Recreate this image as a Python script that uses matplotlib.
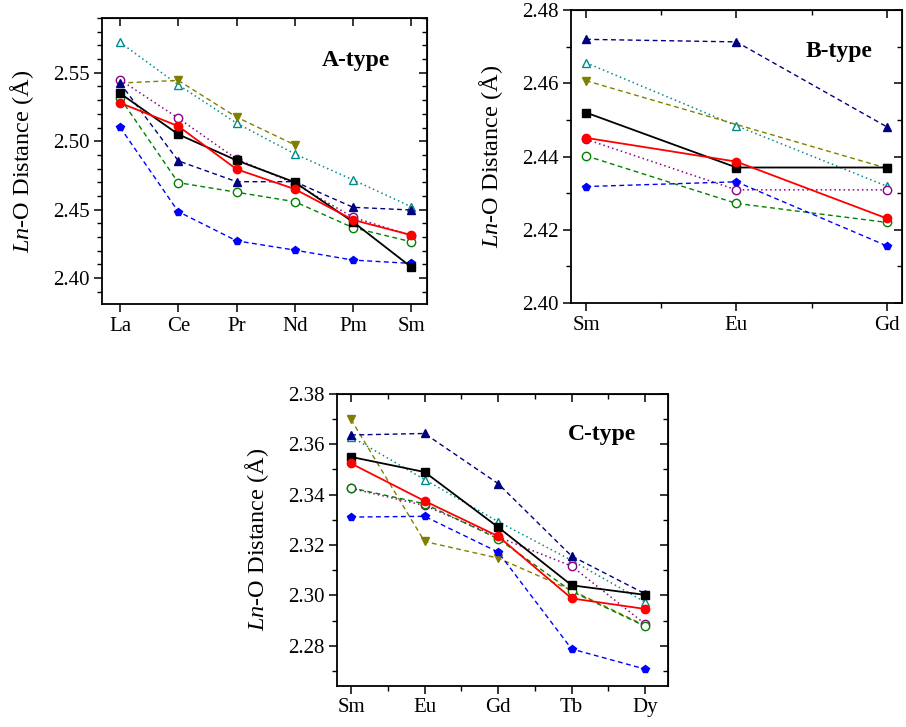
import numpy as np
import matplotlib
matplotlib.use("Agg")
import matplotlib.pyplot as plt
from matplotlib.ticker import MultipleLocator, FormatStrFormatter

plt.rcParams["font.family"] = ["Liberation Serif", "DejaVu Serif"]
plt.rcParams["mathtext.fontset"] = "custom"
plt.rcParams["mathtext.it"] = "Liberation Serif:italic"
plt.rcParams["mathtext.rm"] = "Liberation Serif"

nan = np.nan

# A-type
a_labels = ["La", "Ce", "Pr", "Nd", "Pm", "Sm"]
a_black = [2.535, 2.505, 2.486, 2.470, 2.441, 2.408]
a_red = [2.528, 2.511, 2.4795, 2.465, 2.4425, 2.4314]
a_navy = [2.5425, 2.4856, 2.4704, 2.4704, 2.4517, 2.4497]
a_teal = [2.5722, 2.5412, 2.5132, 2.4907, 2.4717, 2.4521]
a_olive = [2.5425, 2.5444, 2.5176, 2.4973, nan, nan]
a_purple = [2.5449, 2.5168, 2.4870, 2.4690, 2.4444, 2.4310]
a_green = [2.5315, 2.4697, 2.4627, 2.4558, 2.4368, 2.4265]
a_blue = [2.5102, 2.4485, 2.4272, 2.4204, 2.4131, 2.4107]

# B-type
b_labels = ["Sm", "Eu", "Gd"]
b_black = [2.452, 2.437, 2.437]
b_red = [2.4451, 2.4386, 2.4231]
b_navy = [2.472, 2.4713, 2.4481]
b_teal = [2.4656, 2.4484, 2.4319]
b_olive = [2.4607, nan, 2.4368]
b_purple = [2.4447, 2.4309, 2.4309]
b_green = [2.4402, 2.4272, 2.422]
b_blue = [2.4318, 2.4331, 2.4156]

# C-type
c_labels = ["Sm", "Eu", "Gd", "Tb", "Dy"]
c_black = [2.355, 2.349, 2.3271, 2.304, 2.3002]
c_red = [2.3524, 2.3375, 2.3235, 2.2988, 2.2946]
c_navy = [2.3637, 2.3643, 2.3444, 2.3156, 2.3006]
c_teal = [2.363, 2.346, 2.3293, 2.3139, 2.2973]
c_olive = [2.3699, 2.3214, 2.3148, 2.302, 2.288]
c_purple = [2.3425, 2.3357, 2.3232, 2.3116, 2.2886]
c_green = [2.3427, 2.3364, 2.3225, 2.3016, 2.2877]
c_blue = [2.3311, 2.3314, 2.3172, 2.2787, 2.2707]

DASH = (0, (3.5, 2.5))
DOT = (0, (1, 2))
styles = [
    # key, color, marker, linestyle, filled, linewidth
    ("teal", "#008b8b", "^", DOT, False, 1.1),
    ("olive", "#808000", "v", DASH, True, 1.0),
    ("purple", "#8b008b", "o", DOT, False, 1.1),
    ("green", "#008000", "o", DASH, False, 1.0),
    ("blue", "#0000ff", "p", DASH, True, 1.0),
    ("navy", "#000080", "^", DASH, True, 1.0),
    ("black", "black", "s", "-", True, 1.3),
    ("red", "red", "o", "-", True, 1.3),
]


def draw_panel(ax, labels, series, ylim, ymajor, yminor, xlim, xminor, title, title_xy):
    x = np.arange(len(labels))
    for key, color, marker, ls, filled, lw in styles:
        y = np.array(series[key], dtype=float)
        m = ~np.isnan(y)
        ax.plot(x[m], y[m], color=color, linestyle=ls, linewidth=lw,
                marker=marker, markersize=6 if marker != "s" else 5.5,
                markerfacecolor=color if filled else "white",
                markeredgecolor=color, markeredgewidth=1.0)
    ax.set_xlim(*xlim)
    ax.set_ylim(*ylim)
    ax.set_xticks(x)
    ax.set_xticklabels(labels)
    ax.yaxis.set_major_locator(MultipleLocator(ymajor))
    ax.yaxis.set_minor_locator(MultipleLocator(yminor))
    ax.yaxis.set_major_formatter(FormatStrFormatter("%.2f"))
    if xminor:
        ax.xaxis.set_minor_locator(MultipleLocator(0.5))
    ax.tick_params(which="major", direction="out", length=6, width=1.1, labelsize=15, pad=3)
    ax.tick_params(which="minor", direction="out", length=3.5, width=1.0)
    for s in ax.spines.values():
        s.set_linewidth(1.3)

    top = ax.secondary_xaxis("top")
    top.set_xticks(x)
    if xminor:
        top.xaxis.set_minor_locator(MultipleLocator(0.5))
    top.tick_params(which="major", direction="in", length=6, width=1.1, labeltop=False)
    top.tick_params(which="minor", direction="in", length=3.5, width=1.0)
    right = ax.secondary_yaxis("right")
    right.yaxis.set_major_locator(MultipleLocator(ymajor))
    right.yaxis.set_minor_locator(MultipleLocator(yminor))
    right.tick_params(which="major", direction="in", length=6, width=1.1, labelright=False)
    right.tick_params(which="minor", direction="in", length=3.5, width=1.0)

    ax.set_ylabel(r"$\mathit{Ln}$-O Distance (Å)", fontsize=17.5, labelpad=12)
    ax.text(title_xy[0], title_xy[1], title, transform=ax.transAxes,
            fontsize=17, fontweight="bold", ha="center", va="center")


fig = plt.figure(figsize=(9.06, 7.27), dpi=100)

ax_a = fig.add_axes([0.1126, 0.5818, 0.3587, 0.3934])
draw_panel(ax_a, a_labels,
           dict(black=a_black, red=a_red, navy=a_navy, teal=a_teal, olive=a_olive,
                purple=a_purple, green=a_green, blue=a_blue),
           (2.381, 2.590), 0.05, 0.01, (-0.31, 5.27), False, "A-type", (0.78, 0.85))

ax_b = fig.add_axes([0.6302, 0.5832, 0.3653, 0.4030])
draw_panel(ax_b, b_labels,
           dict(black=b_black, red=b_red, navy=b_navy, teal=b_teal, olive=b_olive,
                purple=b_purple, green=b_green, blue=b_blue),
           (2.40, 2.48), 0.02, 0.01, (-0.1, 2.1), True, "B-type", (0.81, 0.86))

ax_c = fig.add_axes([0.3720, 0.0564, 0.3653, 0.4017])
draw_panel(ax_c, c_labels,
           dict(black=c_black, red=c_red, navy=c_navy, teal=c_teal, olive=c_olive,
                purple=c_purple, green=c_green, blue=c_blue),
           (2.264, 2.38), 0.02, 0.01, (-0.19, 4.31), True, "C-type", (0.80, 0.86))

fig.savefig("out.png", dpi=100)
